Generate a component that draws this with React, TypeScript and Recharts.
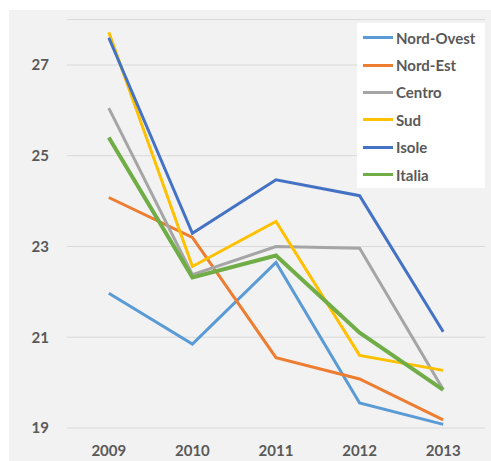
import React from 'react';
import { LineChart, Line, XAxis, YAxis, CartesianGrid } from 'recharts';

const years = ['2009', '2010', '2011', '2012', '2013'];
const nordOvest = [21.97, 20.85, 22.65, 19.55, 19.08];
const nordEst = [24.08, 23.2, 20.55, 20.08, 19.18];
const centro = [26.05, 22.38, 23.0, 22.96, 19.85];
const sud = [27.72, 22.56, 23.55, 20.6, 20.27];
const isole = [27.6, 23.29, 24.47, 24.12, 21.12];
const italia = [25.4, 22.32, 22.8, 21.1, 19.84];
const yTicks = [19, 21, 23, 25, 27];

const series = [
  { key: 'Nord-Ovest', values: nordOvest, color: '#5b9bd5', width: 3 },
  { key: 'Nord-Est', values: nordEst, color: '#ed7d31', width: 3 },
  { key: 'Centro', values: centro, color: '#a5a5a5', width: 3 },
  { key: 'Sud', values: sud, color: '#ffc000', width: 3 },
  { key: 'Isole', values: isole, color: '#4472c4', width: 3 },
  { key: 'Italia', values: italia, color: '#70ad47', width: 4 },
];

const data = years.map((year, i) => {
  const row: Record<string, string | number> = { year };
  series.forEach((s) => {
    row[s.key] = s.values[i];
  });
  return row;
});

const FONT = 'Lato, "Open Sans", sans-serif';
const TEXT = '#595959';

// legend drawn as an overlay so it doesn't eat into the plot width
const LegendBox = () => (
  <div
    style={{
      position: 'absolute',
      left: 357,
      top: 23,
      background: '#ffffff',
      width: 128,
      height: 165,
      paddingTop: 1,
      boxSizing: 'border-box',
    }}
  >
    {series.map((s) => (
      <div key={s.key} style={{ display: 'flex', alignItems: 'center', height: 27.4 }}>
        <span
          style={{
            display: 'inline-block',
            width: 30,
            height: 3,
            marginLeft: 6,
            marginRight: 3,
            background: s.color,
          }}
        />
        <span style={{ fontFamily: FONT, fontWeight: 700, fontSize: 15, color: TEXT }}>
          {s.key}
        </span>
      </div>
    ))}
  </div>
);

export default function App() {
  return (
    <div
      style={{
        position: 'absolute',
        left: 0,
        top: 0,
        width: 491,
        height: 461,
        background: '#ffffff',
      }}
    >
      <div
        style={{
          position: 'absolute',
          left: 9,
          top: 10,
          width: 482,
          height: 451,
          background: '#f2f2f2',
        }}
      />
      <div style={{ position: 'absolute', left: 0, top: 0 }}>
        <LineChart
          width={491}
          height={461}
          data={data}
          margin={{ top: 19.6, right: 6, left: 0, bottom: 0 }}
        >
          <CartesianGrid vertical={false} stroke="#d9d9d9" strokeWidth={1} />
          <XAxis
            dataKey="year"
            axisLine={false}
            tickLine={false}
            tickSize={0}
            tickMargin={17}
            height={33}
            interval={0}
            padding={{ left: 41.8, right: 41.8 }}
            tick={{ fill: TEXT, fontFamily: FONT, fontWeight: 700, fontSize: 15 }}
          />
          <YAxis
            domain={[19, 28]}
            ticks={yTicks}
            axisLine={false}
            tickLine={false}
            tickSize={0}
            tickMargin={18}
            width={67}
            tick={{ fill: TEXT, fontFamily: FONT, fontWeight: 700, fontSize: 15 }}
          />
          {series.map((s) => (
            <Line
              key={s.key}
              type="linear"
              dataKey={s.key}
              name={s.key}
              stroke={s.color}
              strokeWidth={s.width}
              dot={false}
              activeDot={false}
              isAnimationActive={false}
            />
          ))}
        </LineChart>
      </div>
      <LegendBox />
    </div>
  );
}
